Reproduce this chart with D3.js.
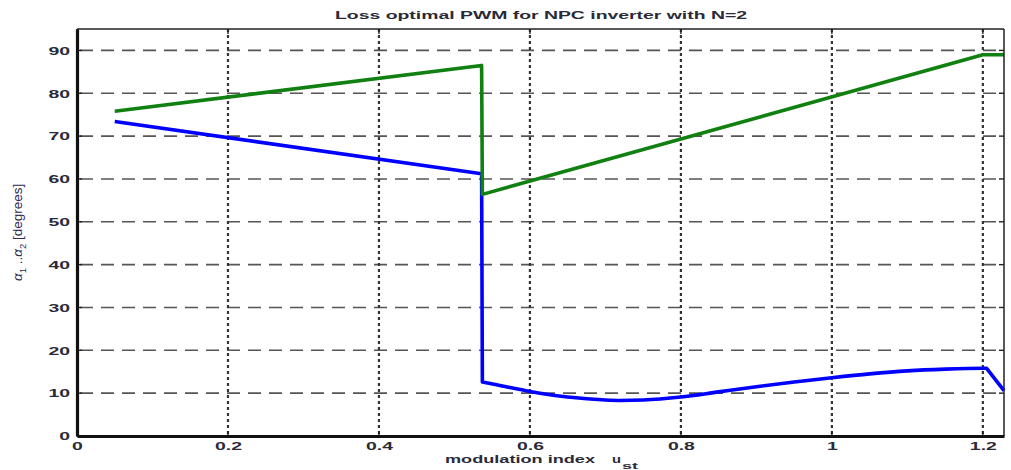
<!DOCTYPE html>
<html>
<head>
<meta charset="utf-8">
<script src="https://cdn.jsdelivr.net/npm/d3@7"></script>
<style>
  html, body { margin: 0; padding: 0; background: #fff; }
  svg { display: block; }
  text { font-family: "Liberation Sans", Arial, sans-serif; }
</style>
</head>
<body>
<svg id="chart" width="1011" height="470"></svg>
<script>
// Switching angles of the loss-optimal PWM pattern versus modulation index
const alpha1X = [0.05, 0.536, 0.537, 0.56, 0.6, 0.65, 0.7, 0.72, 0.75, 0.8, 0.85, 0.9, 0.95, 1.0, 1.05, 1.1, 1.15, 1.2, 1.205, 1.228];
const alpha1Y = [73.4, 61.2, 12.6, 11.8, 10.4, 9.1, 8.4, 8.3, 8.4, 9.1, 10.3, 11.5, 12.6, 13.6, 14.5, 15.2, 15.6, 15.8, 15.8, 10.6];
const alpha2X = [0.05, 0.536, 0.537, 1.2, 1.228];
const alpha2Y = [75.8, 86.5, 56.4, 89.0, 89.0];
const xTicks = [0, 0.2, 0.4, 0.6, 0.8, 1, 1.2];
const yTicks = [0, 10, 20, 30, 40, 50, 60, 70, 80, 90];

const W = 1011, H = 470;
const margin = { top: 29, right: 7, bottom: 34, left: 77 };
const iw = W - margin.left - margin.right;
const ih = H - margin.top - margin.bottom;
const stretch = 1.85;   // wide, condensed-height lettering
const textFill = "#2a2a38";

const svg = d3.select("#chart");
const g = svg.append("g").attr("transform", `translate(${margin.left},${margin.top})`);

const x = d3.scaleLinear().domain([0, 1.228]).range([0, iw]);
const y = d3.scaleLinear().domain([0, 95]).range([ih, 0]);

// horizontal dashed grid
g.append("g").selectAll("line").data(yTicks.filter(d => d > 0)).join("line")
  .attr("x1", 0).attr("x2", iw)
  .attr("y1", d => y(d)).attr("y2", d => y(d))
  .attr("stroke", "#555").attr("stroke-width", 1.6)
  .attr("stroke-dasharray", "13,8").attr("stroke-dashoffset", -3);

// vertical dotted grid
g.append("g").selectAll("line").data(xTicks.filter(d => d > 0)).join("line")
  .attr("x1", d => x(d)).attr("x2", d => x(d))
  .attr("y1", 0).attr("y2", ih)
  .attr("stroke", "#333").attr("stroke-width", 2.2)
  .attr("stroke-dasharray", "3,3");

// inner tick marks on all four sides
const tk = 5;
const ticksG = g.append("g").attr("stroke", "#222").attr("stroke-width", 1.4);
xTicks.forEach(d => {
  ticksG.append("line").attr("x1", x(d)).attr("x2", x(d)).attr("y1", ih).attr("y2", ih - tk);
  ticksG.append("line").attr("x1", x(d)).attr("x2", x(d)).attr("y1", 0).attr("y2", tk);
});
yTicks.forEach(d => {
  ticksG.append("line").attr("x1", 0).attr("x2", tk).attr("y1", y(d)).attr("y2", y(d));
  ticksG.append("line").attr("x1", iw).attr("x2", iw - tk).attr("y1", y(d)).attr("y2", y(d));
});

// data lines: straight segments, with the low-angle branch of alpha1 smoothed
const lineStraight = d3.line().x(d => x(d[0])).y(d => y(d[1]));
const lineSmooth = d3.line().x(d => x(d[0])).y(d => y(d[1])).curve(d3.curveMonotoneX);
const s1 = alpha1X.map((v, i) => [v, alpha1Y[i]]);
const s2 = alpha2X.map((v, i) => [v, alpha2Y[i]]);
const n1 = s1.length;
const blueD = lineStraight(s1.slice(0, 3)) +
  lineSmooth(s1.slice(2, n1 - 1)).replace(/^M/, "L") +
  "L" + x(s1[n1 - 1][0]) + "," + y(s1[n1 - 1][1]);
g.append("path").attr("d", blueD)
  .attr("fill", "none").attr("stroke", "#0000ff").attr("stroke-width", 3.6)
  .attr("stroke-linejoin", "round");
g.append("path").datum(s2).attr("d", lineStraight)
  .attr("fill", "none").attr("stroke", "#108010").attr("stroke-width", 3.6)
  .attr("stroke-linejoin", "round");

// box: thin top/right, heavy left/bottom
g.append("line").attr("x1", 0).attr("x2", iw).attr("y1", 0).attr("y2", 0)
  .attr("stroke", "#222").attr("stroke-width", 1.5);
g.append("line").attr("x1", iw).attr("x2", iw).attr("y1", 0).attr("y2", ih)
  .attr("stroke", "#222").attr("stroke-width", 1.5);

// axes via d3 (tick labels), lines drawn heavy
const xAxis = g.append("g").attr("transform", `translate(0,${ih})`)
  .call(d3.axisBottom(x).tickValues(xTicks).tickSize(0).tickPadding(0).tickFormat(d3.format("~g")));
xAxis.select(".domain").attr("stroke", "#111").attr("stroke-width", 2.8);
xAxis.selectAll("text")
  .attr("y", 0).attr("dy", 0)
  .attr("transform", `translate(0,14) scale(${stretch},1)`)
  .attr("font-size", 10.5).attr("font-weight", "bold").attr("fill", textFill);

const yAxis = g.append("g")
  .call(d3.axisLeft(y).tickValues(yTicks).tickSize(0).tickPadding(0));
yAxis.select(".domain").attr("stroke", "#111").attr("stroke-width", 3.2);
yAxis.selectAll("text")
  .attr("x", 0).attr("dy", "0.36em")
  .attr("transform", `translate(-7,0) scale(${stretch},1)`)
  .attr("font-size", 10.5).attr("font-weight", "bold").attr("fill", textFill);

// title
svg.append("text")
  .attr("x", 335).attr("y", 19)
  .attr("textLength", 412).attr("lengthAdjust", "spacingAndGlyphs")
  .attr("font-size", 10.5).attr("font-weight", "bold").attr("fill", textFill)
  .text("Loss optimal PWM for NPC inverter with N=2");

// x-axis label
svg.append("text")
  .attr("x", 445).attr("y", 463)
  .attr("textLength", 150).attr("lengthAdjust", "spacingAndGlyphs")
  .attr("font-size", 10.5).attr("font-weight", "bold").attr("fill", textFill)
  .text("modulation index");
svg.append("text")
  .attr("x", 612).attr("y", 463)
  .attr("textLength", 9).attr("lengthAdjust", "spacingAndGlyphs")
  .attr("font-size", 10.5).attr("font-weight", "bold").attr("fill", textFill)
  .text("u");
svg.append("text")
  .attr("x", 622).attr("y", 469)
  .attr("textLength", 16).attr("lengthAdjust", "spacingAndGlyphs")
  .attr("font-size", 9).attr("font-weight", "bold").attr("fill", textFill)
  .text("st");

// y-axis label (rotated)
const yl = svg.append("text")
  .attr("transform", "translate(22,281) rotate(-90)")
  .attr("font-size", 13.5).attr("fill", "#2a2a50");
yl.append("tspan").attr("font-style", "italic").text("α");
yl.append("tspan").attr("font-size", 9.5).attr("dy", 4).text("1");
yl.append("tspan").attr("dy", -4).text(" ..");
yl.append("tspan").attr("font-style", "italic").text("α");
yl.append("tspan").attr("font-size", 9.5).attr("dy", 4).text("2");
yl.append("tspan").attr("dy", -4).text(" [degrees]");
</script>
</body>
</html>
